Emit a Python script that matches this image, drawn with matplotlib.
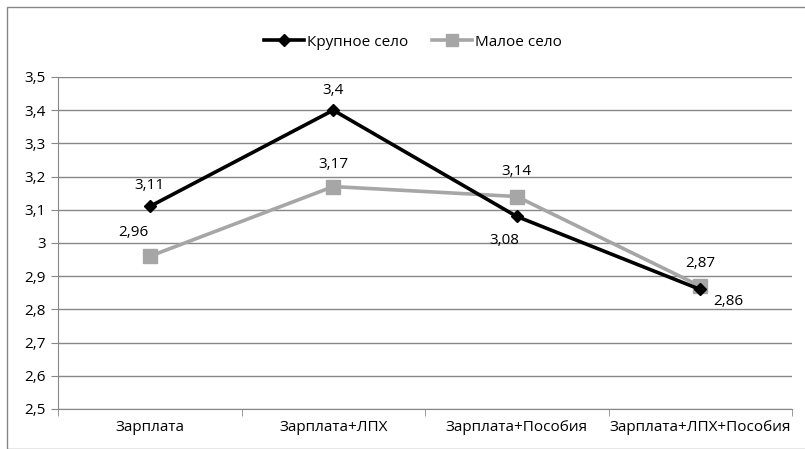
import matplotlib.pyplot as plt
from matplotlib.patches import Rectangle
from matplotlib.ticker import FuncFormatter, FixedLocator

plt.rcParams['font.family'] = ['Open Sans', 'DejaVu Sans']

categories = ["Зарплата", "Зарплата+ЛПХ", "Зарплата+Пособия", "Зарплата+ЛПХ+Пособия"]
big_village = [3.11, 3.40, 3.08, 2.86]
small_village = [2.96, 3.17, 3.14, 2.87]

fig = plt.figure(figsize=(8.05, 4.49), dpi=100)
ax = fig.add_axes([58 / 805, 1 - 409 / 449, 734 / 805, 332 / 449])

x = list(range(len(categories)))
ax.plot(x, small_village, color="#a6a6a6", lw=2.6, marker="s", ms=10,
        label="Малое село", zorder=3)
ax.plot(x, big_village, color="black", lw=2.6, marker="D", ms=6.5,
        label="Крупное село", zorder=4)

fmt = lambda v: ("%g" % v).replace(".", ",")

# data labels: (dx, dy) in points
big_off = [(0, 15), (0, 14), (-9, -17), (20, -9)]
small_off = [(-12, 17), (0, 16), (0, 18), (0, 16)]
for i, v in enumerate(big_village):
    ax.annotate(fmt(v), (i, v), xytext=big_off[i], textcoords="offset points",
                ha="center", va="center", fontsize=11)
for i, v in enumerate(small_village):
    ax.annotate(fmt(v), (i, v), xytext=small_off[i], textcoords="offset points",
                ha="center", va="center", fontsize=11)

ax.set_xlim(-0.5, len(categories) - 0.5)
ax.set_ylim(2.5, 3.5)
ax.set_yticks([2.5 + 0.1 * k for k in range(11)])
ax.yaxis.set_major_formatter(FuncFormatter(lambda v, p: fmt(round(v, 1))))
ax.set_xticks(x)
ax.set_xticklabels(categories)
ax.xaxis.set_minor_locator(FixedLocator([i - 0.5 for i in range(len(categories) + 1)]))
ax.tick_params(axis="x", which="major", length=0, labelsize=11, pad=8)
ax.tick_params(axis="x", which="minor", length=5, color="#878787")
ax.tick_params(axis="y", length=5, color="#878787", labelsize=11, pad=4)

ax.grid(axis="y", color="#878787", lw=1)
ax.set_axisbelow(True)
for s in ["top", "right"]:
    ax.spines[s].set_visible(False)
ax.spines["left"].set_color("#878787")
ax.spines["bottom"].set_color("#878787")

h, l = ax.get_legend_handles_labels()
leg = fig.legend(h[::-1], l[::-1], loc="center", bbox_to_anchor=(413 / 805, 1 - 42 / 449),
                 ncol=2, frameon=False, fontsize=11, handlelength=2.6,
                 columnspacing=1.6, handletextpad=0.2)
leg.legend_handles[1].set_markersize(8)

fig.patches.append(Rectangle((7 / 805, 0), 1, 1 - 7 / 449, transform=fig.transFigure,
                             fill=False, edgecolor="#878787", lw=1))

fig.savefig("out.png", dpi=100)
